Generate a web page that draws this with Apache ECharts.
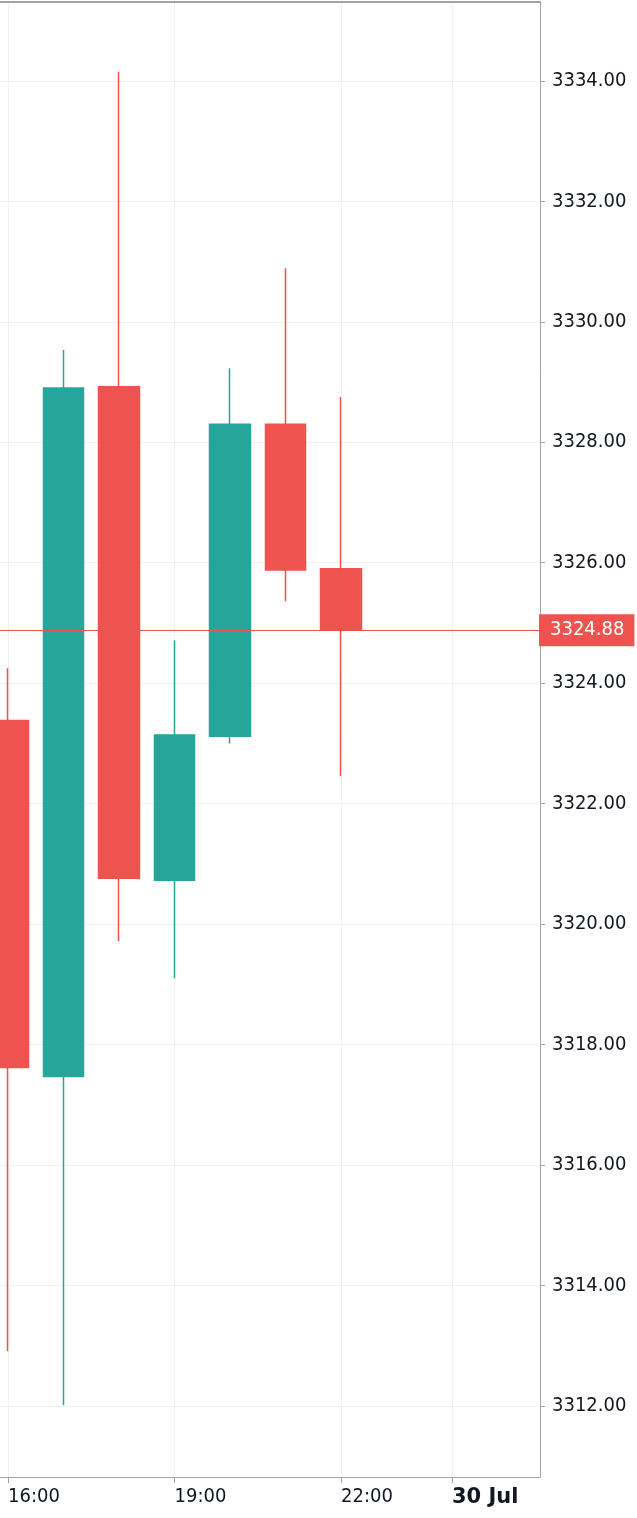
<!DOCTYPE html>
<html>
<head>
<meta charset="utf-8">
<script src="https://cdn.jsdelivr.net/npm/echarts@6/dist/echarts.min.js"></script>
<style>
html,body{margin:0;padding:0;background:#fff;}
#chart{width:637px;height:1518px;}
</style>
</head>
<body>
<div id="chart"></div>
<script>
// Hourly candles (29 Jul)
const times  = ['16:00','17:00','18:00','19:00','20:00','21:00','22:00'];
const opens  = [3323.38, 3317.47, 3328.92, 3320.73, 3323.12, 3328.30, 3325.90];
const closes = [3317.62, 3328.90, 3320.76, 3323.14, 3328.30, 3325.88, 3324.88];
const lows   = [3312.91, 3312.01, 3319.72, 3319.10, 3323.00, 3325.36, 3322.46];
const highs  = [3324.25, 3329.53, 3334.15, 3324.71, 3329.23, 3330.89, 3328.75];
const lastPrice = 3324.88;

// axis ticks
const yTicks = [3312,3314,3316,3318,3320,3322,3324,3326,3328,3330,3332,3334];
const xTickPos = [0, 3, 6, 8];           // hours after 16:00
const xTickLabels = ['16:00','19:00','22:00','30 Jul'];

const UP = '#26a69a', DOWN = '#ef5350';
const FONT = 'DejaVu Sans Condensed';

const candleData = times.map((t, i) => [i, opens[i], closes[i], lows[i], highs[i]]);

const chart = echarts.init(document.getElementById('chart'), null, {renderer: 'canvas'});
chart.setOption({
  animation: false,
  backgroundColor: '#ffffff',
  grid: {left: 0, right: 97, top: 2, bottom: 41, containLabel: false},
  xAxis: [{
    type: 'value',
    min: -0.1441, max: 9.5856,
    axisLine: {show: true, onZero: false, lineStyle: {color: '#a3a3a3', width: 1}},
    axisTick: {show: true, length: 6, customValues: xTickPos, lineStyle: {color: '#a3a3a3'}},
    axisLabel: {
      customValues: xTickPos,
      align: 'left', margin: 10,
      fontFamily: FONT, fontSize: 20, color: '#131722',
      formatter: function (v) {
        const idx = xTickPos.indexOf(Math.round(v));
        const s = idx >= 0 ? xTickLabels[idx] : '';
        return idx === xTickLabels.length - 1 ? '{b|' + s + '}' : s;
      },
      rich: {b: {fontFamily: 'DejaVu Sans', fontSize: 21, fontWeight: 'bold', color: '#131722'}}
    },
    splitLine: {show: true, lineStyle: {color: '#f0f1f3', width: 1}}
  }, {
    type: 'value', position: 'top',
    min: -0.1441, max: 9.5856,
    axisLine: {show: true, onZero: false, lineStyle: {color: '#a3a3a3', width: 2}},
    axisTick: {show: false}, axisLabel: {show: false}, splitLine: {show: false}
  }],
  yAxis: {
    type: 'value', position: 'right',
    min: 3310.82, max: 3335.31,
    axisLine: {show: true, onZero: false, lineStyle: {color: '#a3a3a3', width: 1}},
    axisTick: {show: true, length: 5, customValues: yTicks, lineStyle: {color: '#a3a3a3'}},
    axisLabel: {
      customValues: yTicks, margin: 12,
      fontFamily: FONT, fontSize: 20, color: '#131722',
      formatter: v => v.toFixed(2)
    },
    splitLine: {show: true, lineStyle: {color: '#f0f1f3', width: 1}}
  },
  series: [{
    type: 'candlestick',
    encode: {x: 0, y: [1, 2, 3, 4]},
    data: candleData,
    barWidth: 41,
    clip: true,
    itemStyle: {color: UP, color0: DOWN, borderColor: UP, borderColor0: DOWN, borderWidth: 1.5},
    markLine: {
      silent: true, symbol: ['none', 'none'], animation: false,
      lineStyle: {color: DOWN, width: 1, type: 'solid'},
      label: {
        show: true, position: 'end', distance: -1,
        formatter: lastPrice.toFixed(2),
        backgroundColor: DOWN, color: '#ffffff',
        fontFamily: FONT, fontSize: 20, lineHeight: 20,
        padding: [6, 10, 6, 11]
      },
      emphasis: {disabled: true},
      data: [{yAxis: lastPrice}]
    }
  }]
});
</script>
</body>
</html>
